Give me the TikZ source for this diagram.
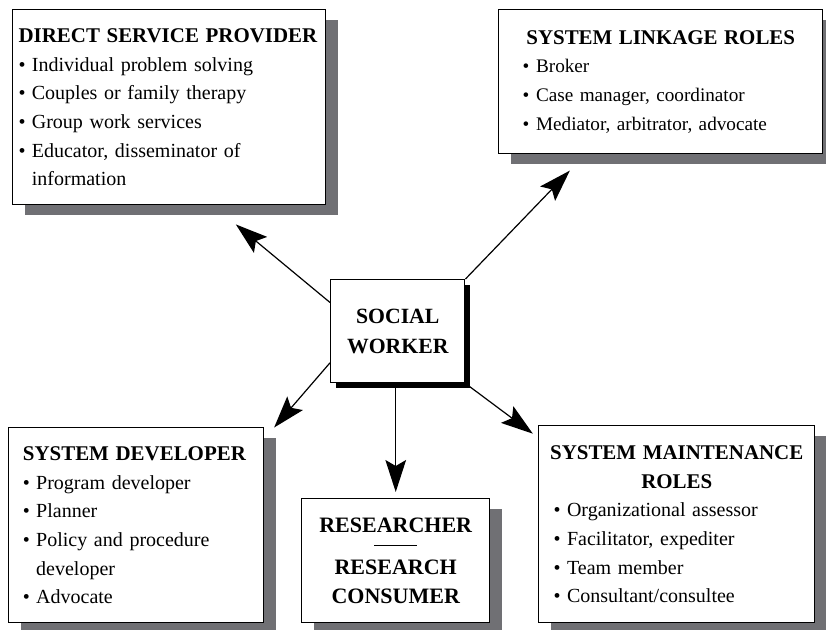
\documentclass[tikz,border=0pt]{standalone}
\usepackage{fontspec}
\setmainfont{Liberation Serif}
\usetikzlibrary{arrows.meta,shadows}
\definecolor{shadowgray}{RGB}{112,112,116}
\newcommand{\rolebullet}{\makebox[10pt][l]{\textbullet}}
\newcommand{\rolegap}{\hspace*{10pt}}
\newcommand{\rolehead}[1]{{\fontsize{15.7}{21.5}\selectfont\bfseries #1}}
\tikzset{
  rolebox/.style={draw, line width=1.1pt, fill=white, anchor=north west, align=left, inner sep=0pt,
    font=\fontsize{15}{21.5}\selectfont,
    drop shadow={shadow xshift=9pt, shadow yshift=-7.5pt, fill=shadowgray, opacity=1}},
  workerbox/.style={draw, line width=1.1pt, fill=white, anchor=north west, align=center, inner sep=0pt,
    font=\fontsize{16.3}{22.5}\selectfont\bfseries,
    drop shadow={shadow xshift=3.75pt, shadow yshift=-3.75pt, fill=black, opacity=1}},
  rolearrow/.style={-{Stealth[length=24pt,width=15.5pt,inset=4.5pt]}, line width=0.9pt}
}
\begin{document}
\begin{tikzpicture}[x=0.75pt,y=0.75pt,yscale=-1,xscale=1]
\useasboundingbox (0,0) rectangle (826,630);

% Box: direct service provider
\node[rolebox, minimum width=234.75pt, minimum height=146.25pt, text width=226pt] (dsp) at (12,9) {%
\makebox[\hsize][l]{\rolehead{DIRECT SERVICE PROVIDER}}\\
\rolebullet Individual problem solving\\
\rolebullet Couples or family therapy\\
\rolebullet Group work services\\
\rolebullet Educator, disseminator of\\
\rolegap information};
% Box: system linkage roles
\node[rolebox, minimum width=243pt, minimum height=108pt, text width=207pt,
  font=\fontsize{14.4}{21.5}\selectfont] (slr) at (498,9) {%
\makebox[\hsize]{\rolehead{SYSTEM LINKAGE ROLES}}\\
\rolebullet Broker\\
\rolebullet Case manager, coordinator\\
\rolebullet Mediator, arbitrator, advocate};
% Box: social worker
\node[workerbox, minimum width=100.5pt, minimum height=77.25pt] (sw) at (330,279) {SOCIAL\\WORKER};
% Box: system developer
\node[rolebox, minimum width=191.25pt, minimum height=146.25pt, text width=170pt] (sd) at (8,427) {%
\rolehead{SYSTEM DEVELOPER}\\
\rolebullet Program developer\\
\rolebullet Planner\\
\rolebullet Policy and procedure\\
\rolegap developer\\
\rolebullet Advocate};
% Box: researcher
\node[rolebox, align=center, minimum width=141pt, minimum height=93pt, text width=130pt,
  font=\fontsize{16.5}{21.5}\selectfont\bfseries] (res) at (301,498) {%
RESEARCHER\\[-7pt]
\rule[4.5pt]{32pt}{0.6pt}\\[-4pt]
RESEARCH\\
CONSUMER};
% Box: system maintenance roles
\node[rolebox, minimum width=207pt, minimum height=147.75pt, text width=184.5pt] (smr) at (538,425) {%
\makebox[\hsize]{\rolehead{SYSTEM MAINTENANCE}}\\
\makebox[\hsize]{\rolehead{ROLES}}\\
\rolebullet Organizational assessor\\
\rolebullet Facilitator, expediter\\
\rolebullet Team member\\
\rolebullet Consultant/consultee};

% Arrows
\draw[rolearrow, shorten >=22.3pt] (sw.157) -- (dsp.-66);
\draw[rolearrow, shorten >=16.8pt] (sw.north east) -- (slr.224);
\draw[rolearrow, shorten >=11.1pt] (sw.205) -- (sd.34.8);
\draw[rolearrow, shorten >=4.5pt] (sw.south -| res.north) -- (res.north);
\draw[rolearrow, shorten >=4.8pt] (sw.south east) -- (smr.148.5);

\end{tikzpicture}
\end{document}
